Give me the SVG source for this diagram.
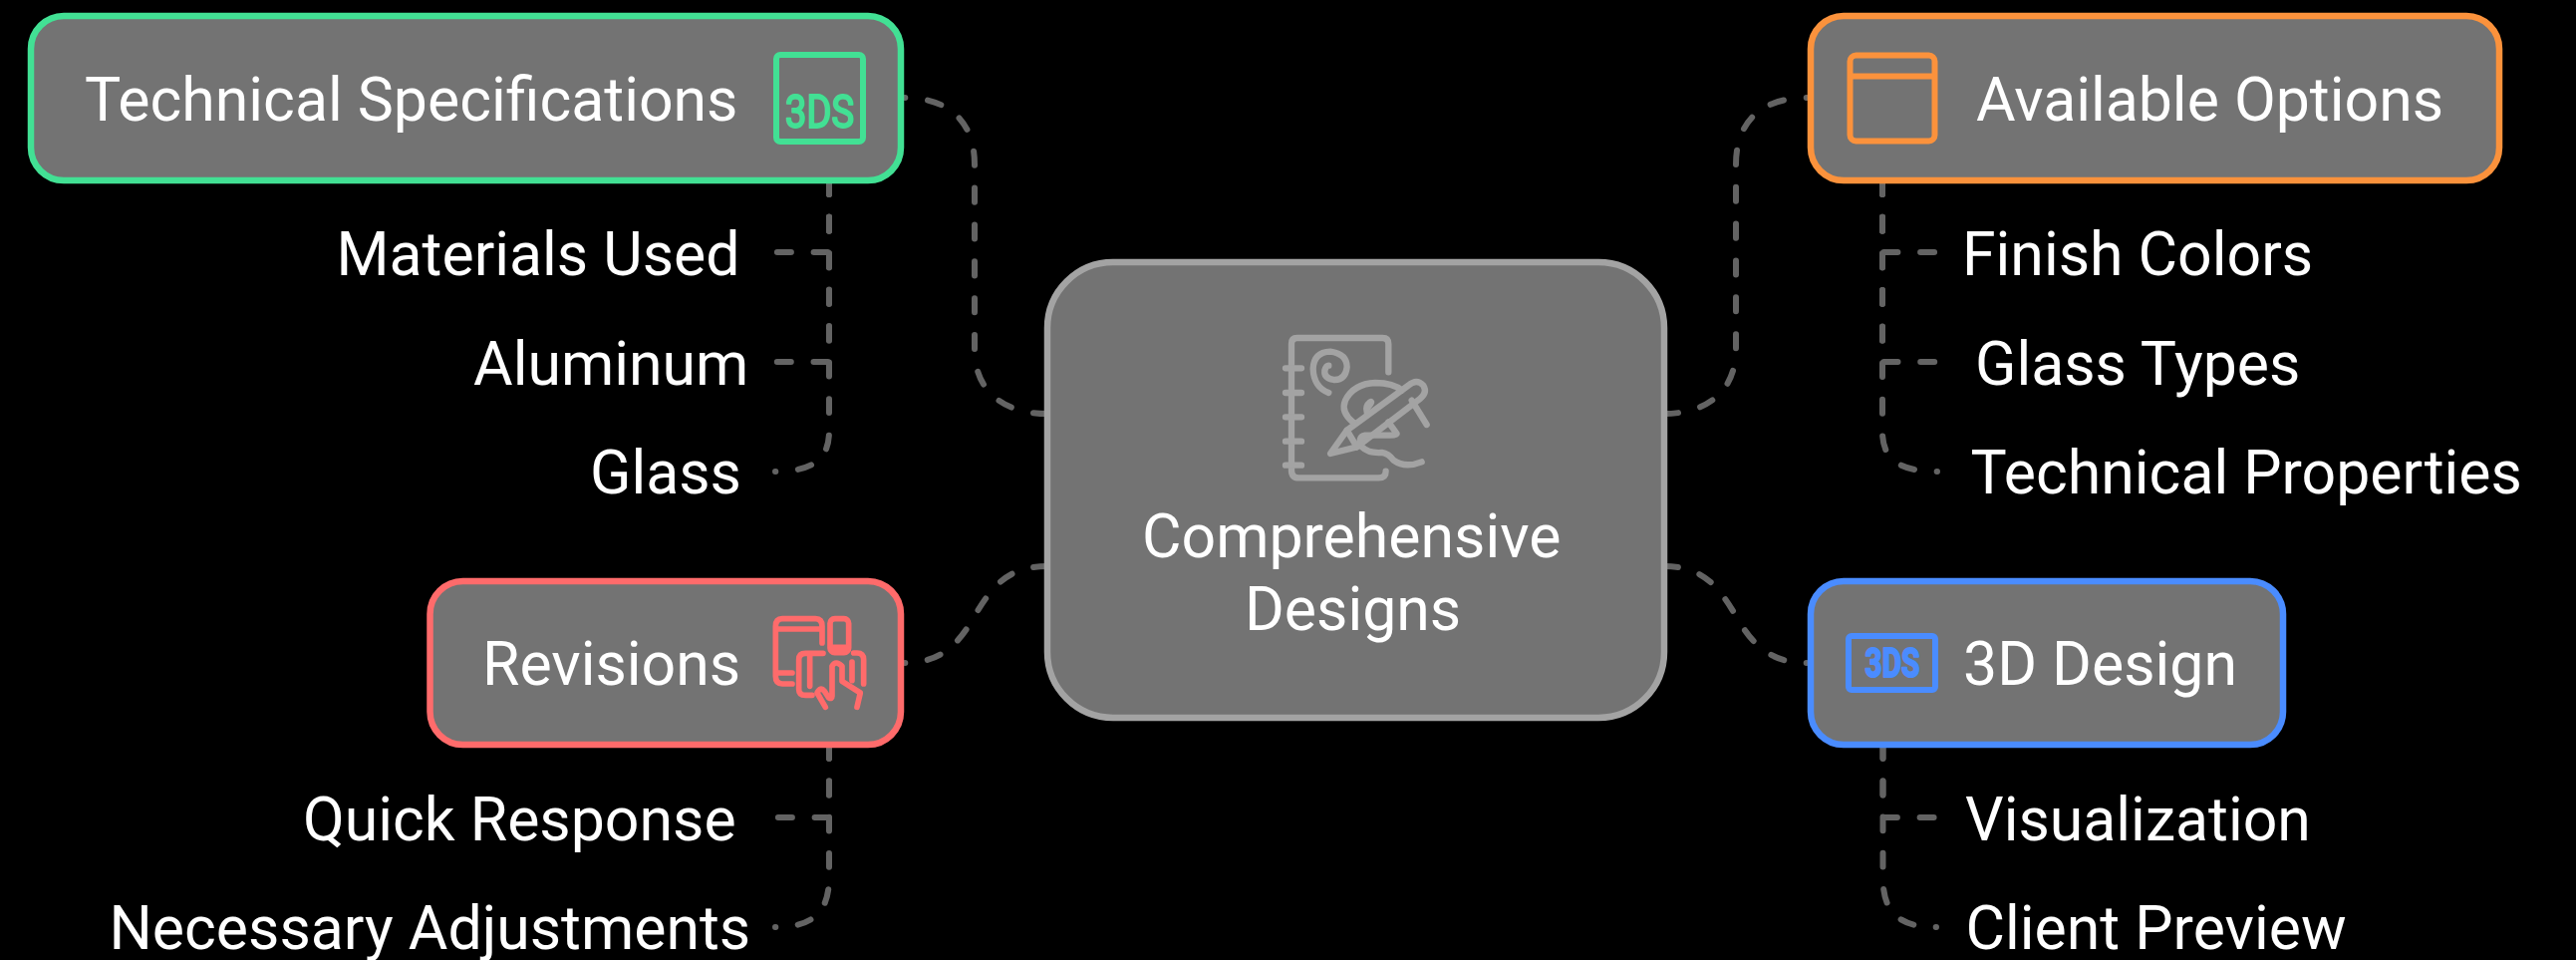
<svg xmlns="http://www.w3.org/2000/svg" width="2585" height="963" viewBox="0 0 2585 963">
<style>
.box{fill:#737373;stroke-width:6.500}
.t{font-family:Roboto,"Liberation Sans",sans-serif;font-size:60.75px;fill:#fff}
.c{fill:none;stroke:#636363;stroke-width:6;stroke-linecap:round;stroke-dasharray:14 22.7}
.i{fill:none;stroke-width:6;stroke-linecap:round;stroke-linejoin:round}
.l{font-family:Roboto,"Liberation Sans",sans-serif;stroke-linejoin:round}
</style>
<rect width="2585" height="963" fill="#000"/>
<g id="connectors">
<path class="c" pathLength="404" d="M1051,415C1010,415 978,395 978,350V165C978,120 950,98 908,98"/>
<path class="c" pathLength="183.800" d="M1051,568C1010,568 995,590 979,616C963,645 945,665 908,665"/>
<path class="c" pathLength="404" d="M1670,415C1710,415 1742,395 1742,350V165C1742,120 1770,98 1813,98"/>
<path class="c" pathLength="183.800" d="M1670,568C1710,568 1725,590 1741,616C1757,645 1775,665 1813,665"/>
<path class="c" d="M832,181V253H778"/>
<path class="c" d="M832,181V363H778"/>
<path class="c" pathLength="330.600" d="M832,181V433C832,460 816,473 778,473"/>
<path class="c" d="M1889,181V253H1944"/>
<path class="c" d="M1889,181V363H1944"/>
<path class="c" pathLength="330.600" d="M1889,181V433C1889,460 1905,473 1944,473"/>
<path class="c" d="M832,747V820H778"/>
<path class="c" pathLength="220.500" d="M832,747V880C832,915 816,930 778,930"/>
<path class="c" d="M1889.500,747V820H1943"/>
<path class="c" pathLength="220.500" d="M1889.500,747V880C1889.500,915 1905,930 1943,930"/>
</g>
<g id="center">
<rect class="box" x="1051" y="263" width="619" height="457" rx="66" stroke="#a3a3a3"/>
<g class="i" stroke="#a3a3a3" transform="translate(1270 320) scale(.3333)" style="stroke-width:19">
<path d="M370,160V75Q370,57 352,57H95Q78,57 78,75V455Q78,478 100,478H340Q362,478 362,458"/>
<path d="M60,148H108M60,222H108M60,295H108M60,368H108M60,440H108"/>
<path d="M190,222Q145,205 143,150Q145,100 195,98Q245,105 245,145Q240,185 205,183Q175,178 178,155Q182,140 190,140"/>
<path d="M195,405L245,335L430,200Q455,178 475,200Q488,222 465,240L275,385Z"/>
<path d="M245,335L275,385M440,245L485,318"/>
<path d="M265,312Q225,280 240,245Q265,195 330,192Q385,192 410,215"/>
<path d="M305,270Q325,245 315,250Q300,262 305,280"/>
<path d="M370,310L395,345Q395,350 375,350H300Q275,355 290,385Q310,405 350,402Q370,405 385,425Q420,450 470,430"/>
</g>
<text class="t" x="1146" y="559">Comprehensive</text>
<text class="t" x="1249" y="632">Designs</text>
</g>
<g id="technical-specifications">
<rect class="box" x="31" y="16" width="873" height="165" rx="33" stroke="#42e094"/>
<text class="t" x="85" y="120.500">Technical Specifications</text>
<g stroke="#42e094"><rect class="i" x="779" y="55" width="87" height="87" rx="4"/>
<text class="l" x="788" y="128" font-size="46" fill="#42e094" stroke-width="2" textLength="69" lengthAdjust="spacingAndGlyphs">3DS</text></g>
</g>
<g id="materials-used"><text class="t" x="337.500" y="276">Materials Used</text></g>
<g id="aluminum"><text class="t" x="475" y="386">Aluminum</text></g>
<g id="glass"><text class="t" x="592" y="495">Glass</text></g>
<g id="available-options">
<rect class="box" x="1817" y="16" width="691" height="165" rx="33" stroke="#fb923c"/>
<g class="i" stroke="#fb923c"><rect x="1856.500" y="55.500" width="85" height="86" rx="6"/><path d="M1857,76.500H1941"/></g>
<text class="t" x="1983" y="121">Available Options</text>
</g>
<g id="finish-colors"><text class="t" x="1969" y="276">Finish Colors</text></g>
<g id="glass-types"><text class="t" x="1982" y="386">Glass Types</text></g>
<g id="technical-properties"><text class="t" x="1977.500" y="495">Technical Properties</text></g>
<g id="revisions">
<rect class="box" x="431.500" y="583" width="472.500" height="164" rx="33" stroke="#ff6b6b"/>
<text class="t" x="484" y="687">Revisions</text>
<g class="i" stroke="#ff6b6b" transform="translate(740 560) scale(.3333)" style="stroke-width:17">
<path d="M255,255V205Q255,182 235,182H135Q115,182 115,205V355Q115,378 135,378H165M118,213H255M118,345H165"/>
<rect x="279" y="182" width="56" height="102" rx="14"/><path d="M282,268H332"/>
<path d="M258,286H205Q185,286 185,305V395Q185,412 205,412H225M218,295V385"/>
<path d="M350,285H360Q380,285 380,305V378M345,312V368"/>
<path d="M265,448L240,405Q250,385 262,400L275,420Q285,425 285,415V325Q295,305 315,325V370L370,405L360,448"/>
</g>
</g>
<g id="quick-response"><text class="t" x="304" y="843">Quick Response</text></g>
<g id="necessary-adjustments"><text class="t" x="109.500" y="952">Necessary Adjustments</text></g>
<g id="design-3d">
<rect class="box" x="1817" y="583" width="474" height="164" rx="33" stroke="#4a8cff"/>
<g stroke="#4a8cff"><rect class="i" x="1855" y="638" width="87" height="54" rx="3"/>
<text class="l" x="1871.500" y="679" font-size="40" font-weight="700" fill="#4a8cff" stroke-width="2" textLength="55" lengthAdjust="spacingAndGlyphs">3DS</text></g>
<text class="t" x="1970" y="687">3D Design</text>
</g>
<g id="visualization"><text class="t" x="1972" y="843">Visualization</text></g>
<g id="client-preview"><text class="t" x="1972.500" y="952">Client Preview</text></g>
</svg>
